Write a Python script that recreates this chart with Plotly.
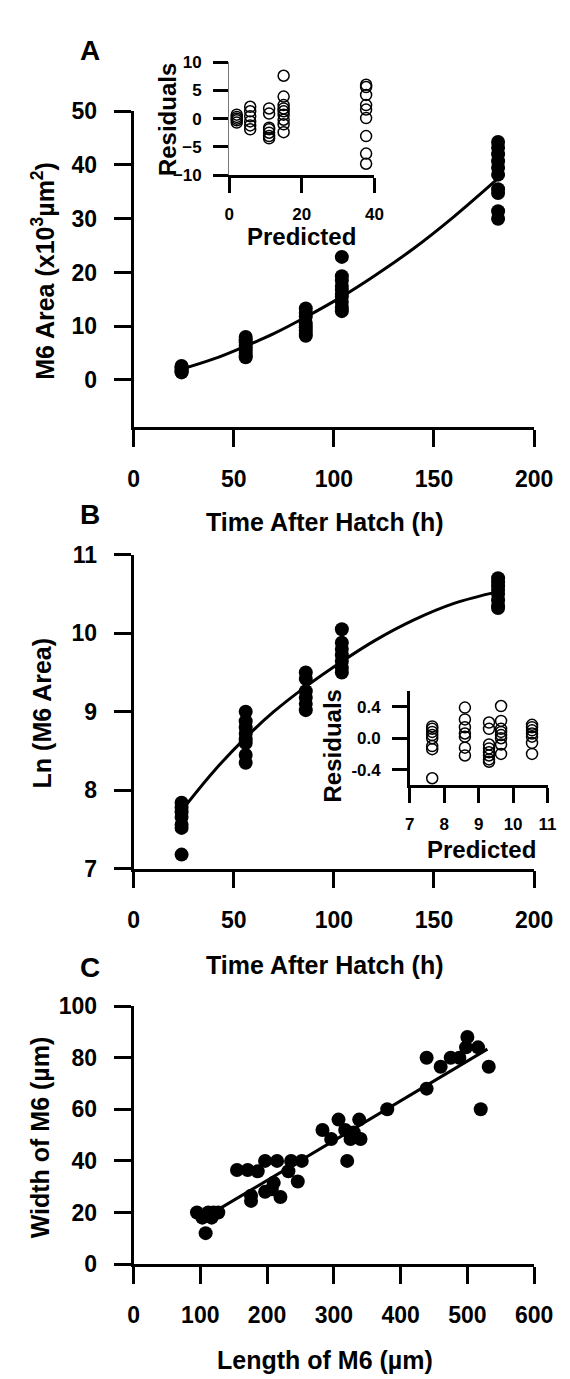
import plotly.graph_objects as go

W, H = 570, 1379
FONT = "Liberation Sans, Arial, sans-serif"

# ---------------- Panel A data ----------------
a_hours = [24]*6 + [56]*9 + [86]*8 + [104]*10 + [182]*10
a_area = [1.4, 1.7, 2.0, 2.3, 2.6, 1.5,
          8.0, 7.5, 7.0, 6.5, 6.0, 5.5, 5.0, 4.5, 4.2,
          13.3, 12.5, 11.8, 10.5, 9.8, 9.2, 8.6, 8.2,
          22.9, 19.3, 18.5, 17.5, 16.8, 16.0, 15.5, 14.5, 13.5, 12.8,
          44.3, 43.2, 42.0, 40.7, 39.5, 38.2, 35.5, 34.8, 31.4, 30.0]
a_fit_x = [24, 40, 56, 70, 86, 104, 120, 140, 160, 182]
a_fit_y = [2.0, 3.9, 6.3, 8.6, 11.7, 15.5, 19.3, 24.5, 30.4, 37.5]

# inset A residuals
ra_pred = [2.1]*5 + [5.8]*6 + [11.0]*7 + [15.0]*9 + [37.7]*9
ra_resid = [0.7, 0.3, 0.0, -0.3, -0.7,
            2.1, 1.3, 0.4, -0.5, -1.2, -1.9,
            1.8, 0.9, -1.6, -1.9, -2.5, -3.1, -3.5,
            7.6, 3.9, 2.4, 1.8, 1.3, 0.7, -0.2, -1.0, -2.4,
            6.0, 5.6, 4.2, 2.4, 1.6, 0.1, -3.1, -6.2, -8.0]

# ---------------- Panel B data ----------------
b_hours = [24]*7 + [56]*8 + [86]*6 + [104]*7 + [182]*8
b_ln = [7.84, 7.78, 7.72, 7.66, 7.56, 7.52, 7.18,
        9.0, 8.88, 8.8, 8.72, 8.65, 8.6, 8.45, 8.35,
        9.5, 9.42, 9.26, 9.18, 9.1, 9.02,
        10.05, 9.88, 9.8, 9.72, 9.64, 9.56, 9.5,
        10.7, 10.65, 10.6, 10.55, 10.5, 10.42, 10.35, 10.32]
b_fit_x = [24, 40, 56, 70, 86, 104, 120, 140, 160, 182]
b_fit_y = [7.74, 8.24, 8.67, 9.00, 9.32, 9.64, 9.90, 10.17, 10.38, 10.53]

rb_pred = [7.65]*8 + [8.6]*7 + [9.3]*8 + [9.65]*8 + [10.55]*7
rb_resid = [0.15, 0.12, 0.08, 0.04, 0.0, -0.1, -0.14, -0.51,
            0.39, 0.24, 0.14, 0.06, 0.02, -0.12, -0.22,
            0.2, 0.12, -0.08, -0.13, -0.18, -0.22, -0.27, -0.3,
            0.41, 0.22, 0.12, 0.08, 0.04, 0.0, -0.08, -0.2,
            0.17, 0.14, 0.1, 0.06, 0.02, -0.06, -0.2]

# ---------------- Panel C data ----------------
c_length = [95, 103, 108, 112, 117, 120, 127, 155, 171, 186, 176, 176, 197, 215,
            236, 252, 197, 207, 210, 220, 232, 246, 283, 296, 307, 320, 317, 325,
            330, 338, 340, 380, 439, 439, 460, 475, 488, 500, 498, 516, 520, 532]
c_width = [20, 18, 12, 20, 18, 20, 20, 36.5, 36.5, 36, 26.5, 24.5, 40, 40,
           40, 40, 28, 29, 31.5, 26, 36, 32, 52, 48.5, 56, 40, 52, 48.5,
           51, 56, 48.5, 60, 80, 68, 76.5, 80, 80, 88, 84, 84, 60, 76.5]
c_fit_x = [129, 530]
c_fit_y = [21.5, 83.3]

a_xticks = [0, 50, 100, 150, 200]
a_yticks = [0, 10, 20, 30, 40, 50]
b_yticks = [7, 8, 9, 10, 11]
c_xticks = [0, 100, 200, 300, 400, 500, 600]
c_yticks = [0, 20, 40, 60, 80, 100]
ia_xticks = [0, 20, 40]
ia_yticks = [-10, -5, 0, 5, 10]
ib_xticks = [7, 8, 9, 10, 11]
ib_yticks = [-0.4, 0.0, 0.4]
ib_ylabels = ["-0.4", "0.0", "0.4"]


def px(x):
    return x / W


def py(y):
    return 1 - y / H


fig = go.Figure()

filled = dict(color="black", size=14)
opened = dict(color="black", size=11, symbol="circle-open", line=dict(width=1.5, color="black"))

fig.add_trace(go.Scatter(x=a_hours, y=a_area, mode="markers", marker=filled, xaxis="x", yaxis="y", cliponaxis=False))
fig.add_trace(go.Scatter(x=a_fit_x, y=a_fit_y, mode="lines", line=dict(color="black", width=3, shape="spline"), xaxis="x", yaxis="y"))
fig.add_trace(go.Scatter(x=ra_pred, y=ra_resid, mode="markers", marker=opened, xaxis="x2", yaxis="y2", cliponaxis=False))

fig.add_trace(go.Scatter(x=b_hours, y=b_ln, mode="markers", marker=filled, xaxis="x3", yaxis="y3", cliponaxis=False))
fig.add_trace(go.Scatter(x=b_fit_x, y=b_fit_y, mode="lines", line=dict(color="black", width=3, shape="spline"), xaxis="x3", yaxis="y3"))
fig.add_trace(go.Scatter(x=rb_pred, y=rb_resid, mode="markers", marker=opened, xaxis="x4", yaxis="y4", cliponaxis=False))

fig.add_trace(go.Scatter(x=c_length, y=c_width, mode="markers", marker=filled, xaxis="x5", yaxis="y5", cliponaxis=False))
fig.add_trace(go.Scatter(x=c_fit_x, y=c_fit_y, mode="lines", line=dict(color="black", width=3), xaxis="x5", yaxis="y5"))

tickfont_main = dict(family=FONT, size=23, color="black", weight="bold")
tickfont_in = dict(family=FONT, size=17, color="black", weight="bold")


def ax(domain, rng, tickvals, anchor, ticktext=None, main=True, linecolor="black", lw=2.5, standoff=12):
    d = dict(domain=domain, range=rng, tickmode="array", tickvals=tickvals,
             showgrid=False, zeroline=False, showline=True, linecolor=linecolor, linewidth=lw,
             ticks="outside", ticklen=17 if main else 15, tickwidth=2.5, tickcolor="black",
             tickfont=tickfont_main if main else tickfont_in, anchor=anchor, fixedrange=True,
             ticklabelstandoff=standoff)
    if ticktext is not None:
        d["ticktext"] = ticktext
    return d


main_x = [px(125), px(544)]
fig.update_layout(
    width=W, height=H, margin=dict(l=0, r=0, t=0, b=0),
    paper_bgcolor="white", plot_bgcolor="rgba(0,0,0,0)", showlegend=False,
    font=dict(family=FONT, color="black"),
    xaxis=ax(main_x, [0, 200], a_xticks, "y"),
    yaxis=ax([py(414), py(92)], [-8.8, 50], a_yticks, "x"),
    xaxis2=ax([px(225), px(377)], [0, 40], ia_xticks, "y2", main=False, lw=3, standoff=7),
    yaxis2=ax([py(157), py(42)], [-10, 10], ia_yticks, "x2", main=False, linecolor="#777777", lw=1, standoff=8),
    xaxis3=ax(main_x, [0, 200], a_xticks, "y3"),
    yaxis3=ax([py(864), py(544)], [7, 11], b_yticks, "x3"),
    xaxis4=ax([px(414), px(558)], [7, 11], ib_xticks, "y4", main=False, standoff=7),
    yaxis4=ax([py(779), py(683)], [-0.6, 0.6], ib_yticks, "x4", ticktext=ib_ylabels, main=False, standoff=8),
    xaxis5=ax(main_x, [0, 600], c_xticks, "y5"),
    yaxis5=ax([py(1267), py(1004)], [0, 100], c_yticks, "x5"),
)


def ann(text, x, y, size, angle=0):
    fig.add_annotation(text=text, x=px(x), y=py(y), xref="paper", yref="paper",
                       showarrow=False, textangle=angle, xanchor="center", yanchor="middle",
                       font=dict(family=FONT, size=size, color="black", weight="bold"))


TS = 25
ann("A", 79, 30, 28)
ann("B", 79, 503, 28)
ann("C", 80, 965, 28)
ann("Time After Hatch (h)", 325, 511, TS)
ann("Time After Hatch (h)", 325, 962, TS)
ann("Length of M6 (µm)", 325, 1365, TS)
ann("M6 Area (x10<sup>3</sup>µm<sup>2</sup>)", 31, 255, TS, -90)
ann("Ln (M6 Area)", 29, 706, TS, -90)
ann("Width of M6 (µm)", 27, 1138, TS, -90)
ann("Residuals", 160, 100, 24, -90)
ann("Predicted", 301, 220, 24)
ann("Residuals", 333, 739, 24, -90)
ann("Predicted", 489, 844, 24)

fig.write_html("out.html")
